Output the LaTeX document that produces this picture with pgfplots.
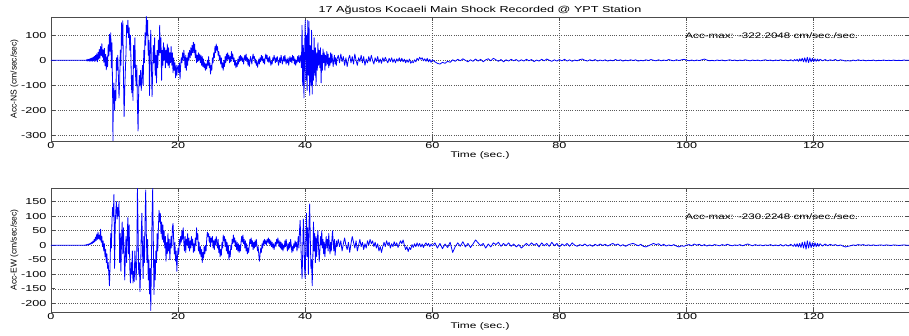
\documentclass[border=0pt]{standalone}
\usepackage{pgfplots}
\pgfplotsset{compat=1.18}
\usepackage{fontspec}
\setmainfont{Liberation Sans}[FakeStretch=1.45]
\newfontfamily\plainfont{Liberation Sans}
\begin{document}
\begin{tikzpicture}
\path[use as bounding box] (0pt,0pt) rectangle (909pt,336pt);
\pgfplotsset{
  seis/.style={
    scale only axis, width=858pt, height=124pt, anchor=north west,
    xmin=0, xmax=135, xtick={0,20,40,60,80,100,120},
    grid=major, major grid style={black!65, line width=0.4pt, dash pattern=on 0.6pt off 1.6pt},
    axis line style={black!70, line width=0.5pt}, tick style={black!70, line width=0.5pt},
    tick align=inside, major tick length=4pt,
    /pgf/number format/assume math mode=true,
    tick label style={font=\fontsize{8.7}{9}\selectfont},
    xticklabel style={yshift=2pt},
    yticklabel style={xshift=-1pt},
    xlabel={Time (sec.)}, xlabel style={font=\fontsize{8.2}{9}\selectfont, yshift=4pt},
    ylabel style={font=\plainfont\fontsize{8.5}{9}\selectfont, yshift=-4pt},
    clip=true,
  },
  seisline/.style={blue, line width=0.8pt, line join=round},
}
\begin{axis}[seis, at={(51pt,319pt)}, ymin=-322.2, ymax=173,
  ytick={-300,-200,-100,0,100},
  ylabel={Acc-NS (cm/sec/sec)},
  title={17 Ağustos Kocaeli Main Shock Recorded @ YPT Station},
  title style={font=\fontsize{8.7}{9}\selectfont, yshift=-7pt}]
\addplot[seisline] coordinates {
(0,0)(5.5,0)
(5.6,2)(5.7,-3)(5.8,4)(5.9,-2)(6.0,5)(6.1,-4)(6.2,7)(6.3,-3)(6.4,9)(6.5,-4)(6.6,12)(6.7,-2)(6.8,16)(6.9,-5)(7.0,20)
(7.1,0)(7.2,26)(7.3,-6)(7.4,32)(7.5,4)(7.6,44)(7.7,8)(7.8,55)(7.9,18)(8.0,66)(8.1,12)(8.2,42)(8.3,-8)(8.4,48)(8.5,-22)(8.6,24)(8.7,-38)(8.8,14)(8.9,-26)(9.0,62)(9.1,18)(9.2,104)(9.3,36)(9.4,110)(9.5,-30)(9.6,70)(9.7,-150)(9.75,-322)(9.8,-140)(9.9,-90)(10.0,-200)(10.1,-120)(10.2,-160)(10.3,10)(10.4,-40)(10.5,20)(10.6,-60)(10.7,-150)(10.8,-90)(10.9,40)(11.0,-20)(11.1,150)(11.2,60)(11.3,158)(11.4,-60)(11.5,-225)(11.6,-120)(11.7,-40)(11.8,30)(11.9,140)(12.0,110)(12.1,160)(12.2,90)(12.3,130)(12.4,40)(12.5,100)(12.6,-20)(12.7,-130)(12.8,-60)(12.9,-160)(13.0,60)(13.1,-30)(13.2,90)(13.3,-60)(13.4,-100)(13.5,-20)(13.6,-180)(13.7,-282)(13.8,-120)(13.9,-60)(14.0,-100)(14.1,-40)(14.2,-120)(14.3,-70)(14.4,-20)(14.5,-100)(14.6,40)(14.7,-10)(14.8,110)(14.9,60)(15.0,175)(15.1,100)(15.2,160)(15.3,20)(15.4,80)(15.5,-140)(15.6,40)(15.7,120)(15.8,-20)(15.9,-145)(16.0,-40)(16.1,60)(16.2,-10)(16.3,90)(16.4,-60)(16.5,20)(16.6,-90)(16.7,40)(16.8,-30)(16.9,80)(17.0,20)(17.1,140)(17.2,30)(17.3,90)(17.4,-80)(17.5,40)(17.6,-20)(17.7,70)(17.8,0)(17.9,50)(18.0,-30)(18.1,40)(18.2,-10)(18.3,65)(18.4,-20)(18.5,50)(18.6,-30)(18.7,30)(18.8,-10)(18.9,55)(19.0,-20)(19.1,30)(19.2,-50)(19.3,10)(19.4,-40)(19.5,-10)(19.6,-70)(19.7,-20)(19.8,-60)(19.9,-30)(20.0,-20)(20.1,-50)(20.2,-10)(20.3,-75)(20.4,-20)(20.5,10)(20.6,-10)(20.7,30)(20.8,0)(20.9,40)(21.0,10)(21.1,-30)(21.2,20)(21.3,-40)(21.4,10)(21.5,-20)(21.6,30)(21.7,0)(21.8,40)(21.9,10)(22.0,50)(22.1,20)(22.2,60)(22.3,30)(22.4,72)(22.5,30)(22.6,65)(22.7,10)(22.8,40)(22.9,-10)(23.0,20)(23.1,-5)(23.2,30)(23.3,0)(23.4,25)(23.5,-10)(23.6,20)(23.7,-20)(23.8,15)(23.9,-25)(24.0,5)(24.1,-30)(24.2,-10)(24.3,-40)(24.4,-15)(24.5,-35)(24.6,0)(24.7,-20)(24.8,15)(24.9,-30)(25.0,-10)(25.1,-55)(25.2,-20)(25.3,-40)(25.4,10)(25.5,-10)(25.6,30)(25.7,10)(25.8,55)(25.9,30)(26.0,65)(26.1,40)(26.2,55)(26.3,20)(26.4,35)(26.5,0)(26.6,20)(26.7,-15)(26.8,10)(26.9,-30)(27.0,-10)(27.1,-40)(27.2,0)(27.3,-25)(27.4,15)(27.5,-10)(27.6,25)(27.7,0)(27.8,30)(27.9,5)(28.0,20)(28.1,-10)(28.2,15)(28.3,-5)(28.4,35)(28.5,5)(28.6,25)(28.7,-5)(28.8,10)(28.9,-20)(29.0,0)(29.1,-30)(29.2,-10)(29.3,-25)(29.4,5)(29.5,-15)(29.6,15)(29.7,-5)(29.8,20)(29.9,0)(30.0,15)
(30.1,-5)(30.2,10)(30.3,-15)(30.4,5)(30.5,20)(30.6,0)(30.7,25)(30.8,-5)(30.9,10)(31.0,-20)(31.1,5)(31.2,-25)(31.3,-5)(31.4,15)(31.5,0)(31.6,-15)(31.7,10)(31.8,25)(31.9,5)(32.0,15)(32.1,-10)(32.2,5)(32.3,-20)(32.4,-5)(32.5,-28)(32.6,-10)(32.7,5)(32.8,-15)(32.9,10)(33.0,-5)(33.1,20)(33.2,0)(33.3,15)(33.4,-10)(33.5,5)(33.6,-15)(33.7,10)(33.8,25)(33.9,5)(34.0,20)(34.1,-5)(34.2,10)(34.3,-10)(34.4,15)(34.5,0)(34.6,-20)(34.7,-5)(34.8,-15)(34.9,10)(35.0,0)(35.1,20)(35.2,5)(35.3,-10)(35.4,10)(35.5,-5)(35.6,15)(35.7,0)(35.8,-20)(35.9,-5)(36.0,10)(36.1,-10)(36.2,20)(36.3,5)(36.4,-15)(36.5,0)(36.6,15)(36.7,-5)(36.8,20)(36.9,0)(37.0,-15)(37.1,5)(37.2,-10)(37.3,10)(37.4,-20)(37.5,0)(37.6,15)(37.7,-5)(37.8,10)(37.9,-10)(38.0,20)(38.1,0)(38.2,15)(38.3,-15)(38.4,5)(38.5,-20)(38.6,0)(38.7,-10)(38.8,15)(38.9,-5)(39.0,20)(39.1,-10)(39.2,10)
(39.3,20)(39.4,-30)(39.5,140)(39.6,-100)(39.7,60)(39.8,-150)(39.9,20)(40.0,160)(40.1,-80)(40.2,100)(40.3,-120)(40.4,160)(40.5,-60)(40.6,155)(40.7,-140)(40.8,60)(40.9,-100)(41.0,120)(41.1,-135)(41.2,40)(41.3,-80)(41.4,90)(41.5,-60)(41.6,50)(41.7,-100)(41.8,30)(41.9,-40)(42.0,70)(42.1,-20)(42.2,40)(42.3,-30)(42.4,50)(42.5,-90)(42.6,20)(42.7,-40)(42.8,45)(42.9,-10)(43.0,30)(43.1,-40)(43.2,20)(43.3,-20)(43.4,35)(43.5,-15)(43.6,25)(43.7,-30)(43.8,10)(43.9,-20)(44.0,30)
(44.1,-10)(44.2,25)(44.3,0)(44.4,-25)(44.5,5)(44.6,20)(44.7,-15)(44.8,10)(44.9,-20)(45.0,5)
(45.2,20)(45.4,-10)(45.6,25)(45.8,-5)(46.0,15)(46.2,-20)(46.4,10)(46.6,-25)(46.8,5)(47.0,20)(47.2,-10)(47.4,15)(47.6,-15)(47.8,25)(48.0,0)(48.2,-20)(48.4,10)(48.6,-5)(48.8,20)(49.0,-10)(49.2,15)(49.4,-20)(49.6,5)(49.8,-10)(50.0,15)(50.2,-5)(50.4,20)(50.6,0)(50.8,-15)(51.0,10)(51.2,-5)(51.4,15)(51.6,-10)(51.8,5)(52.0,-12)(52.2,10)(52.4,-5)(52.6,12)(52.8,0)(53.0,-10)(53.2,8)(53.4,-5)(53.6,10)(53.8,-8)(54.0,5)(54.2,-10)(54.4,6)(54.6,-4)(54.8,10)(55.0,-5)(55.2,8)(55.4,-6)(55.6,4)(55.8,-10)(56.0,2)(56.2,-8)(56.4,5)(56.6,-12)(56.8,-4)(57.0,-10)(57.2,2)(57.4,-6)(57.6,8)(57.8,0)(58.0,12)(58.2,4)(58.4,10)(58.6,-2)(58.8,6)(59.0,-4)(59.2,8)(59.4,-6)(59.6,4)(59.8,-8)(60.0,2)
(60.4,-6)(60.8,-12)(61.2,-15)(61.6,-8)(62.0,-12)(62.4,-4)(62.8,-8)(63.2,2)(63.6,-4)(64.0,4)(64.4,-2)(64.8,6)(65.2,0)(65.6,-6)(66.0,2)(66.4,-4)(66.8,5)(67.2,-3)(67.6,4)(68.0,-6)(68.4,2)(68.8,6)(69.2,-2)(69.6,8)(70.0,2)(70.4,-4)(70.8,3)(71.2,-6)(71.6,2)(72.0,-3)(72.4,4)(72.8,-2)(73.2,3)(73.6,-4)(74.0,2)(74.4,-3)(74.8,4)(75.2,-2)(75.6,3)(76.0,-5)(76.4,1)(76.8,-3)(77.2,4)(77.6,-2)(78.0,5)(78.4,0)(78.8,-4)(79.2,2)(79.6,-3)(80.0,3)(80.4,-2)(80.8,4)(81.2,-3)(81.6,2)(82.0,-4)(82.4,1)(82.8,-2)(83.2,3)(83.6,5)(84.0,0)(84.4,-3)(84.8,2)(85.2,-2)(85.6,3)(86.0,-3)(86.4,1)(86.8,-2)(87.2,2)(87.6,-3)(88.0,1)(88.4,-2)(88.8,3)(89.2,-1)(89.6,2)(90.0,-3)(90.4,1)(90.8,-2)(91.2,2)(91.6,-1)(92.0,2)(92.4,-3)(92.8,0)(93.2,-2)(93.6,2)(94.0,-1)(94.4,3)(94.8,0)(95.2,-2)(95.6,2)(96.0,-2)(96.4,1)(96.8,-1)(97.2,3)(97.6,0)(98.0,-2)(98.4,2)(98.8,-1)(99.2,2)(99.6,4)(100.0,1)(100.4,-2)(100.8,1)(101.2,-2)(101.6,1)(102.0,-1)(102.4,2)(102.8,5)(103.2,1)(103.6,-2)(104.0,0)(104.4,-2)(104.8,1)(105.2,-1)(105.6,1)(106.0,-2)(106.4,0)(106.8,2)(107.2,-1)(107.6,1)(108.0,-2)(108.4,1)(108.8,-1)(109.2,2)(109.6,0)(110.0,-2)(110.4,1)(110.8,-1)(111.2,1)(111.6,-2)(112.0,0)(112.4,2)(112.8,-1)(113.2,1)(113.6,-2)(114.0,1)(114.4,-1)(114.8,2)(115.2,-1)(115.6,1)(116.0,-2)(116.4,2)(116.8,-3)(117.0,3)(117.2,-2)(117.4,4)(117.6,-4)(117.8,6)(118.0,-3)(118.2,8)(118.4,-6)(118.6,10)(118.8,-8)(119.0,12)(119.2,-9)(119.4,10)(119.6,-6)(119.8,8)(120.0,-5)(120.2,6)(120.4,-4)(120.6,5)(120.8,-3)(121.0,4)(121.4,-2)(121.8,3)(122.2,-2)(122.6,2)(123.0,-1)(123.4,3)(123.8,-2)(124.2,2)(124.6,0)(125.0,-3)(125.4,-1)(125.8,-3)(126.2,1)(126.6,-2)(127.0,2)(127.4,-1)(127.8,1)(128.2,-2)(128.6,0)(129.0,-1)(129.4,1)(129.8,-2)(130.2,0)(130.6,-1)(131.0,1)(131.4,-1)(131.8,0)(132.2,-1)(132.6,1)(133.0,-1)(133.4,0)(133.8,-1)(134.2,1)(134.6,0)(135,0)
};
\node[anchor=west, font=\fontsize{8}{9}\selectfont, inner sep=0pt] at (axis cs:99.8,100) {Acc-max: -322.2048 cm/sec./sec.};
\end{axis}
\begin{axis}[seis, at={(51pt,148pt)}, ymin=-230.2, ymax=197,
  ytick={-200,-150,-100,-50,0,50,100,150},
  ylabel={Acc-EW (cm/sec/sec)}]
\addplot[seisline] coordinates {
(0,0)(5.3,0)
(5.4,1)(5.5,-1)(5.6,2)(5.7,0)(5.8,3)(5.9,1)(6.0,5)(6.1,2)(6.2,7)(6.3,4)(6.4,10)(6.5,6)(6.6,14)(6.7,9)(6.8,20)(6.9,12)(7.0,28)(7.1,16)(7.2,38)(7.3,20)(7.4,45)(7.5,22)(7.6,35)(7.7,18)(7.8,55)(7.9,10)(8.0,30)(8.1,-5)(8.2,15)(8.3,-20)(8.4,5)(8.5,-40)(8.6,-15)(8.7,-60)(8.8,-30)(8.9,-80)(9.0,-60)(9.1,-100)(9.2,-140)(9.3,-60)(9.4,40)(9.5,-10)(9.6,90)(9.7,130)(9.8,100)(9.9,175)(10.0,-80)(10.1,60)(10.2,120)(10.3,150)(10.4,90)(10.5,130)(10.6,100)(10.7,150)(10.8,-60)(10.9,40)(11.0,-90)(11.1,20)(11.2,80)(11.3,-30)(11.4,60)(11.5,-20)(11.6,-120)(11.7,-40)(11.8,30)(11.9,-60)(12.0,40)(12.1,95)(12.2,-30)(12.3,70)(12.4,-80)(12.5,-130)(12.6,-60)(12.7,-100)(12.8,-20)(12.9,-130)(13.0,-90)(13.1,-125)(13.2,-20)(13.3,-70)(13.4,-120)(13.5,-40)(13.6,195)(13.7,60)(13.8,-100)(13.9,-60)(14.0,-160)(14.1,-90)(14.2,40)(14.3,110)(14.4,-20)(14.5,-115)(14.6,30)(14.7,-60)(14.8,80)(14.9,190)(15.0,40)(15.1,-60)(15.2,20)(15.3,-120)(15.4,-50)(15.5,-168)(15.6,-80)(15.7,-225)(15.8,-60)(15.9,100)(16.0,195)(16.1,20)(16.2,-170)(16.3,-50)(16.4,-120)(16.5,-20)(16.6,-60)(16.7,40)(16.8,-20)(16.9,60)(17.0,120)(17.1,80)(17.2,110)(17.3,40)(17.4,80)(17.5,20)(17.6,70)(17.7,10)(17.8,50)(17.9,-10)(18.0,30)(18.1,-55)(18.2,10)(18.3,-30)(18.4,40)(18.5,-20)(18.6,20)(18.7,-50)(18.8,0)(18.9,30)(19.0,-10)(19.1,60)(19.2,75)(19.3,20)(19.4,-30)(19.5,10)(19.6,-55)(19.7,-20)(19.8,-90)(19.9,-40)(20.0,-10)(20.1,-30)(20.2,20)(20.3,0)(20.4,30)(20.5,10)(20.6,50)(20.7,20)(20.8,60)(20.9,10)(21.0,-20)(21.1,30)(21.2,-25)(21.3,20)(21.4,0)(21.5,40)(21.6,-10)(21.7,25)(21.8,-20)(21.9,15)(22.0,-10)(22.1,30)(22.2,0)(22.3,20)(22.4,-25)(22.5,5)(22.6,-20)(22.7,25)(22.8,0)(22.9,60)(23.0,20)(23.1,40)(23.2,-20)(23.3,10)(23.4,-30)(23.5,-5)(23.6,-40)(23.7,-15)(23.8,-60)(23.9,-25)(24.0,-45)(24.1,-5)(24.2,-30)(24.3,0)(24.4,-20)(24.5,20)(24.6,45)(24.7,30)(24.8,40)(24.9,10)(25.0,30)(25.1,-5)(25.2,25)(25.3,10)(25.4,30)(25.5,-10)(25.6,15)(25.7,-15)(25.8,20)(25.9,0)(26.0,30)(26.1,10)(26.2,-10)(26.3,20)(26.4,-25)(26.5,0)(26.6,-40)(26.7,-15)(26.8,-35)(26.9,10)(27.0,-10)(27.1,35)(27.2,15)(27.3,30)(27.4,-5)(27.5,20)(27.6,-20)(27.7,10)(27.8,-30)(27.9,0)(28.0,-50)(28.1,-20)(28.2,-40)(28.3,0)(28.4,-15)(28.5,20)(28.6,5)(28.7,35)(28.8,10)(28.9,25)(29.0,-5)(29.1,15)(29.2,-15)(29.3,10)(29.4,-20)(29.5,5)(29.6,-25)(29.7,0)(29.8,-20)(29.9,10)(30.0,30)
(30.1,10)(30.2,35)(30.3,5)(30.4,20)(30.5,-10)(30.6,15)(30.7,-20)(30.8,5)(30.9,-30)(31.0,-10)(31.1,-25)(31.2,0)(31.3,20)(31.4,5)(31.5,25)(31.6,-5)(31.7,15)(31.8,-15)(31.9,10)(32.0,-10)(32.1,15)(32.2,-5)(32.3,20)(32.4,0)(32.5,-20)(32.6,-5)(32.7,-35)(32.8,-55)(32.9,-30)(33.0,-10)(33.1,-25)(33.2,5)(33.3,-10)(33.4,15)(33.5,0)(33.6,20)(33.7,5)(33.8,15)(33.9,0)(34.0,20)(34.1,10)(34.2,25)(34.3,5)(34.4,20)(34.5,0)(34.6,15)(34.7,-5)(34.8,10)(34.9,-10)(35.0,5)(35.1,-15)(35.2,0)(35.3,10)(35.4,-5)(35.5,20)(35.6,5)(35.7,25)(35.8,10)(35.9,-5)(36.0,15)(36.1,-10)(36.2,10)(36.3,-15)(36.4,5)(36.5,-20)(36.6,0)(36.7,-10)(36.8,15)(36.9,-5)(37.0,20)(37.1,0)(37.2,-20)(37.3,5)(37.4,-15)(37.5,10)(37.6,-10)(37.7,20)(37.8,0)(37.9,-25)(38.0,-5)(38.1,-20)(38.2,5)(38.3,-10)(38.4,15)(38.5,-5)(38.6,10)(38.7,-20)(38.8,0)(38.9,30)(39.0,-10)(39.1,50)(39.2,85)(39.3,20)(39.4,-60)(39.5,-115)(39.6,-30)(39.7,90)(39.8,40)(39.9,-80)(40.0,-115)(40.1,20)(40.2,110)(40.3,-40)(40.4,60)(40.5,-100)(40.6,80)(40.7,142)(40.8,20)(40.9,-80)(41.0,-50)(41.1,-140)(41.2,-40)(41.3,80)(41.4,-20)(41.5,40)(41.6,-60)(41.7,30)(41.8,-40)(41.9,20)(42.0,50)(42.1,-10)(42.2,-56)(42.3,-20)(42.4,30)(42.5,0)(42.6,50)(42.7,-10)(42.8,20)(42.9,-30)(43.0,10)(43.1,-40)(43.2,0)(43.3,30)(43.4,-10)(43.5,20)(43.6,-20)(43.7,40)(43.8,0)(43.9,-30)(44.0,10)(44.1,-20)(44.2,20)(44.3,50)(44.4,10)(44.5,-20)(44.6,20)(44.7,-35)(44.8,-10)(44.9,15)(45.0,-5)
(45.2,20)(45.4,-5)(45.6,15)(45.8,-20)(46.0,5)(46.2,25)(46.4,0)(46.6,-15)(46.8,10)(47.0,-25)(47.2,5)(47.4,30)(47.6,10)(47.8,-10)(48.0,15)(48.2,-20)(48.4,0)(48.6,20)(48.8,-5)(49.0,10)(49.2,-15)(49.4,5)(49.6,-10)(49.8,15)(50.0,0)(50.2,20)(50.4,5)(50.6,15)(50.8,-5)(51.0,10)(51.2,-10)(51.4,5)(51.6,-20)(51.8,-5)(52.0,-25)(52.2,-5)(52.4,10)(52.6,-5)(52.8,15)(53.0,0)(53.2,10)(53.4,-10)(53.6,5)(53.8,-5)(54.0,12)(54.2,-2)(54.4,8)(54.6,-8)(54.8,5)(55.0,15)(55.2,5)(55.4,18)(55.6,0)(55.8,-15)(56.0,-5)(56.2,-22)(56.4,-8)(56.6,-15)(56.8,2)(57.0,-8)(57.2,5)(57.4,-5)(57.6,8)(57.8,-4)(58.0,6)(58.2,-6)(58.4,4)(58.6,-8)(58.8,2)(59.0,8)(59.2,-2)(59.4,6)(59.6,-5)(59.8,4)(60.0,-3)
(60.4,8)(60.8,-10)(61.2,6)(61.6,-12)(62.0,4)(62.4,-8)(62.8,10)(63.2,-25)(63.6,-5)(64.0,8)(64.4,-4)(64.8,12)(65.2,-6)(65.6,6)(66.0,-8)(66.4,4)(66.8,18)(67.2,8)(67.6,-2)(68.0,6)(68.4,-10)(68.8,4)(69.2,-6)(69.6,8)(70.0,2)(70.4,10)(70.8,-4)(71.2,6)(71.6,-2)(72.0,8)(72.4,-4)(72.8,4)(73.2,-6)(73.6,2)(74.0,-10)(74.4,-2)(74.8,6)(75.2,-2)(75.6,8)(76.0,0)(76.4,6)(76.8,-6)(77.2,8)(77.6,-2)(78.0,6)(78.4,-4)(78.8,10)(79.2,-2)(79.6,6)(80.0,-6)(80.4,4)(80.8,-2)(81.2,6)(81.6,-4)(82.0,8)(82.4,0)(82.8,-4)(83.2,2)(83.6,-2)(84.0,4)(84.4,-3)(84.8,2)(85.2,-4)(85.6,3)(86.0,-2)(86.4,4)(86.8,-1)(87.2,3)(87.6,-3)(88.0,2)(88.4,6)(88.8,0)(89.2,4)(89.6,-3)(90.0,2)(90.4,-4)(90.8,1)(91.2,4)(91.6,6)(92.0,2)(92.4,-2)(92.8,3)(93.2,-4)(93.6,-6)(94.0,-2)(94.4,2)(94.8,6)(95.2,2)(95.6,5)(96.0,-2)(96.4,3)(96.8,-3)(97.2,1)(97.6,-2)(98.0,2)(98.4,-3)(98.8,-6)(99.2,-2)(99.6,-4)(100.0,0)(100.4,2)(100.8,-2)(101.2,4)(101.6,0)(102.0,3)(102.4,-2)(102.8,2)(103.2,-3)(103.6,1)(104.0,-2)(104.4,2)(104.8,0)(105.2,-2)(105.6,2)(106.0,-1)(106.4,3)(106.8,0)(107.2,-2)(107.6,1)(108.0,-1)(108.4,2)(108.8,-2)(109.2,1)(109.6,4)(110.0,1)(110.4,-2)(110.8,2)(111.2,-1)(111.6,1)(112.0,-2)(112.4,1)(112.8,-1)(113.2,2)(113.6,-2)(114.0,1)(114.4,-2)(114.8,2)(115.2,-3)(115.6,2)(116.0,-3)(116.4,3)(116.8,-4)(117.0,4)(117.2,-5)(117.4,5)(117.6,-6)(117.8,6)(118.0,-8)(118.2,10)(118.4,-10)(118.6,12)(118.8,-14)(119.0,15)(119.2,-10)(119.4,12)(119.6,-8)(119.8,8)(120.0,-6)(120.2,8)(120.4,-5)(120.6,6)(120.8,-4)(121.0,5)(121.4,-3)(121.8,4)(122.2,-2)(122.6,3)(123.0,-1)(123.4,2)(123.8,-2)(124.2,1)(124.6,-3)(125.0,-6)(125.4,-4)(125.8,-2)(126.2,1)(126.6,-1)(127.0,2)(127.4,0)(127.8,2)(128.2,-1)(128.6,1)(129.0,-1)(129.4,1)(129.8,-1)(130.2,0)(130.6,1)(131.0,-1)(131.4,1)(131.8,0)(132.2,-1)(132.6,1)(133.0,0)(133.4,-1)(133.8,0)(134.2,1)(134.6,0)(135,0)
};
\node[anchor=west, font=\fontsize{8}{9}\selectfont, inner sep=0pt] at (axis cs:99.8,100) {Acc-max: -230.2248 cm/sec./sec.};
\end{axis}
\end{tikzpicture}
\end{document}
